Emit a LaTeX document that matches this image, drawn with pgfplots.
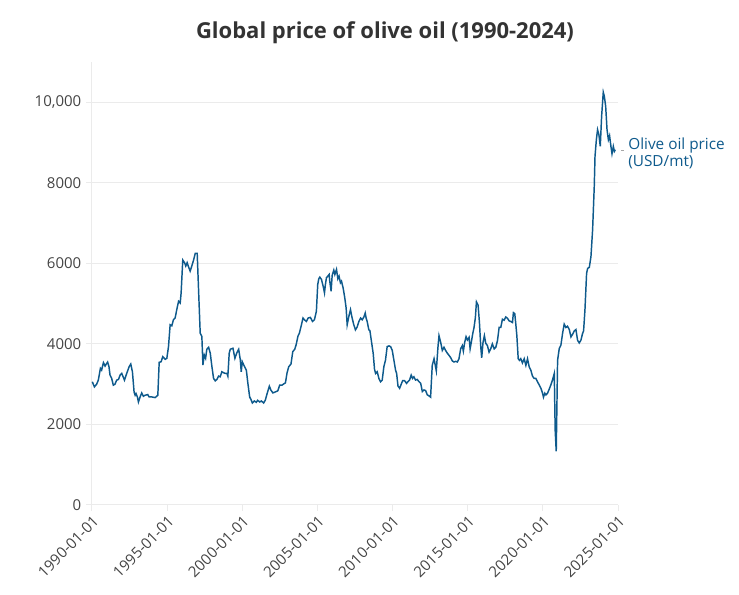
\documentclass[border=0pt]{standalone}
\usepackage{fontspec}
\setmainfont{Open Sans}
\usepackage{pgfplots}
\pgfplotsset{compat=1.18}
\definecolor{linec}{RGB}{14,90,140}
\definecolor{gridc}{RGB}{235,235,235}
\definecolor{tickc}{RGB}{68,68,68}
\definecolor{titlec}{RGB}{51,51,51}
\begin{document}
\begin{tikzpicture}[x=0.75pt,y=0.75pt]
\useasboundingbox (-92,-90) rectangle (647,505);
\begin{axis}[at={(0,0)}, anchor=south west, scale only axis,
  width=394.5pt, height=332.25pt,
  xmin=1990, xmax=2025, ymin=0, ymax=11000,
  scaled x ticks=false, scaled y ticks=false,
  xtick={1990,1995,2000,2005,2010,2015,2020,2025},
  xticklabels={1990-01-01,1995-01-01,2000-01-01,2005-01-01,2010-01-01,2015-01-01,2020-01-01,2025-01-01},
  ytick={0,2000,4000,6000,8000,10000},
  yticklabels={0,2000,4000,6000,8000,{10,000}},
  axis lines=left, axis line style={draw=gridc, line width=0.75pt, -},
  ymajorgrids, grid style={draw=gridc, line width=0.75pt},
  tick style={draw=gridc, line width=0.75pt}, tick align=outside, major tick length=4.5pt,
  /pgf/number format/assume math mode=true,
  tick label style={font=\fontsize{11.25}{13}\selectfont, text=tickc},
  xticklabel style={rotate=45, anchor=north east, inner sep=2pt},
  clip=false,
]
\addplot[linec, line width=1.1pt] coordinates {
(1990.02,3060)(1990.16,2933)(1990.31,3000)(1990.42,3100)(1990.56,3392)(1990.64,3350)
(1990.76,3533)(1990.87,3450)(1990.98,3517)(1991.04,3550)(1991.13,3433)(1991.20,3225)
(1991.31,3142)(1991.42,2975)(1991.53,3000)(1991.64,3100)(1991.76,3117)(1991.87,3225)
(1991.98,3267)(1992.16,3100)(1992.31,3267)(1992.47,3433)(1992.58,3500)(1992.69,3308)
(1992.80,2808)(1992.87,2725)(1992.93,2767)(1993.02,2683)(1993.09,2558)(1993.20,2683)
(1993.31,2783)(1993.42,2700)(1993.53,2725)(1993.71,2742)(1993.80,2683)(1993.98,2683)
(1994.20,2667)(1994.38,2725)(1994.47,3542)(1994.60,3558)(1994.71,3683)(1994.87,3617)
(1994.98,3642)(1995.09,3933)(1995.20,4475)(1995.31,4450)(1995.42,4600)(1995.53,4642)
(1995.64,4850)(1995.76,5058)(1995.87,5017)(1995.93,5267)(1996.04,6083)(1996.16,6017)
(1996.24,5933)(1996.33,6017)(1996.42,5917)(1996.53,5808)(1996.64,5933)(1996.76,6083)
(1996.87,6250)(1997.00,6250)(1997.09,5350)(1997.20,4267)(1997.31,4183)(1997.38,3475)
(1997.47,3725)(1997.56,3642)(1997.64,3867)(1997.76,3917)(1997.87,3767)(1997.98,3433)
(1998.09,3142)(1998.20,3083)(1998.31,3117)(1998.42,3200)(1998.53,3183)(1998.64,3308)
(1998.76,3283)(1998.87,3267)(1998.98,3267)(1999.04,3200)(1999.13,3767)
(1999.20,3867)(1999.38,3892)(1999.51,3642)(1999.64,3783)(1999.76,3867)(1999.87,3600)
(1999.93,3308)(2000.00,3558)(2000.13,3450)(2000.27,3350)(2000.36,3058)(2000.49,2683)
(2000.58,2617)(2000.67,2533)(2000.80,2583)(2000.93,2550)(2001.02,2600)(2001.16,2558)
(2001.27,2583)(2001.42,2533)(2001.53,2600)(2001.64,2750)(2001.80,2950)(2001.91,2850)
(2002.04,2783)(2002.20,2808)(2002.36,2833)(2002.49,2975)(2002.64,2975)(2002.80,3017)
(2002.87,3033)(2002.98,3283)(2003.09,3433)(2003.24,3500)(2003.36,3808)(2003.49,3867)
(2003.58,3975)(2003.71,4200)(2003.80,4267)(2003.91,4433)(2004.04,4642)(2004.13,4600)
(2004.27,4558)(2004.38,4642)(2004.53,4658)(2004.67,4558)(2004.80,4600)(2004.93,4808)
(2005.02,5475)(2005.09,5617)(2005.16,5658)(2005.27,5600)(2005.38,5433)(2005.47,5267)
(2005.53,5475)(2005.60,5642)(2005.69,5683)(2005.78,5725)(2005.82,5558)(2005.91,5308)
(2005.98,5700)(2006.09,5833)(2006.16,5725)(2006.27,5850)(2006.36,5617)(2006.44,5683)
(2006.53,5517)(2006.60,5558)(2006.71,5392)(2006.82,5142)(2006.91,4892)(2006.98,4475)
(2007.09,4683)(2007.20,4850)(2007.31,4642)(2007.42,4475)(2007.53,4350)(2007.64,4417)
(2007.76,4558)(2007.87,4642)(2007.98,4600)(2008.09,4667)(2008.18,4767)(2008.24,4642)
(2008.31,4558)(2008.42,4350)(2008.49,4333)(2008.58,4100)(2008.71,3767)(2008.80,3367)
(2008.87,3267)(2008.98,3308)(2009.09,3142)(2009.20,3058)(2009.31,3100)(2009.42,3433)
(2009.53,3600)(2009.64,3933)(2009.76,3950)(2009.87,3933)
(2009.98,3837)(2010.09,3592)(2010.20,3347)(2010.27,3266)(2010.36,2955)(2010.47,2898)
(2010.58,3004)(2010.67,3086)(2010.80,3086)(2010.93,3020)(2011.02,3061)(2011.13,3102)
(2011.24,3225)(2011.33,3143)(2011.42,3184)(2011.53,3102)(2011.64,3118)(2011.76,3061)
(2011.87,3020)(2011.98,2816)(2012.09,2857)(2012.20,2841)(2012.31,2735)(2012.42,2710)
(2012.53,2678)(2012.64,3469)(2012.76,3633)(2012.82,3510)(2012.91,3331)(2013.02,3918)
(2013.09,4204)(2013.20,4041)(2013.31,3837)(2013.42,3918)(2013.53,3837)(2013.64,3771)
(2013.76,3714)(2013.87,3657)(2013.98,3576)(2014.09,3551)(2014.20,3567)(2014.31,3551)
(2014.42,3633)(2014.53,3878)(2014.64,3959)(2014.71,3820)(2014.80,4041)(2014.89,4180)
(2014.98,4098)(2015.09,4163)(2015.16,3878)(2015.24,4041)(2015.33,4245)(2015.42,4408)
(2015.51,4653)(2015.58,5045)(2015.69,4963)(2015.78,4531)(2015.87,3918)(2015.93,3657)
(2016.02,4041)(2016.11,4204)(2016.20,4016)(2016.31,3959)(2016.42,3796)(2016.53,3878)
(2016.64,4000)(2016.76,3878)(2016.87,3918)(2016.98,4082)(2017.09,4408)(2017.20,4408)
(2017.31,4612)(2017.42,4588)(2017.53,4669)(2017.64,4637)(2017.76,4571)(2017.87,4555)
(2017.98,4531)(2018.04,4776)(2018.13,4751)(2018.20,4490)(2018.27,4204)(2018.36,3633)
(2018.44,3592)(2018.53,3633)(2018.64,3527)(2018.76,3633)(2018.87,3469)(2018.98,3633)
(2019.09,3429)(2019.20,3347)(2019.31,3200)(2019.42,3143)(2019.53,3143)(2019.64,3061)
(2019.76,2980)(2019.87,2898)(2019.98,2776)(2020.04,2678)(2020.13,2776)(2020.20,2735)
(2020.31,2776)(2020.42,2873)(2020.53,2980)(2020.64,3102)(2020.76,3265)
(2020.82,1850)(2020.89,1335)(2020.98,3592)(2021.09,3883)(2021.20,3966)(2021.31,4256)
(2021.42,4489)(2021.53,4406)(2021.64,4439)(2021.76,4356)(2021.87,4173)(2021.98,4240)
(2022.09,4323)(2022.20,4356)(2022.31,4090)(2022.42,4024)(2022.53,4090)(2022.64,4256)
(2022.71,4323)(2022.80,4837)(2022.91,5750)(2022.98,5875)(2023.09,5900)(2023.20,6165)
(2023.31,6830)(2023.42,7908)(2023.47,8655)(2023.56,9070)(2023.64,9319)(2023.73,9195)
(2023.82,8904)(2023.91,9651)(2024.02,10249)(2024.09,10149)(2024.18,9900)(2024.27,9319)
(2024.36,9070)(2024.44,9170)(2024.53,8904)(2024.60,8722)(2024.69,8904)(2024.76,8780)
(2024.82,8821)
};
\draw[gray!70, line width=0.75pt] (axis cs:2025.2,8790) -- (axis cs:2025.4,8790);
\node[anchor=west, align=left, inner sep=0pt, text=linec,
  font=\fontsize{11.5}{12.75}\selectfont] at (axis cs:2025.67,8740) {Olive oil price\\(USD/mt)};
\end{axis}
\node[font=\bfseries\fontsize{16.5}{19}\selectfont, text=titlec] at (293,472) {Global price of olive oil (1990-2024)};
\end{tikzpicture}
\end{document}
